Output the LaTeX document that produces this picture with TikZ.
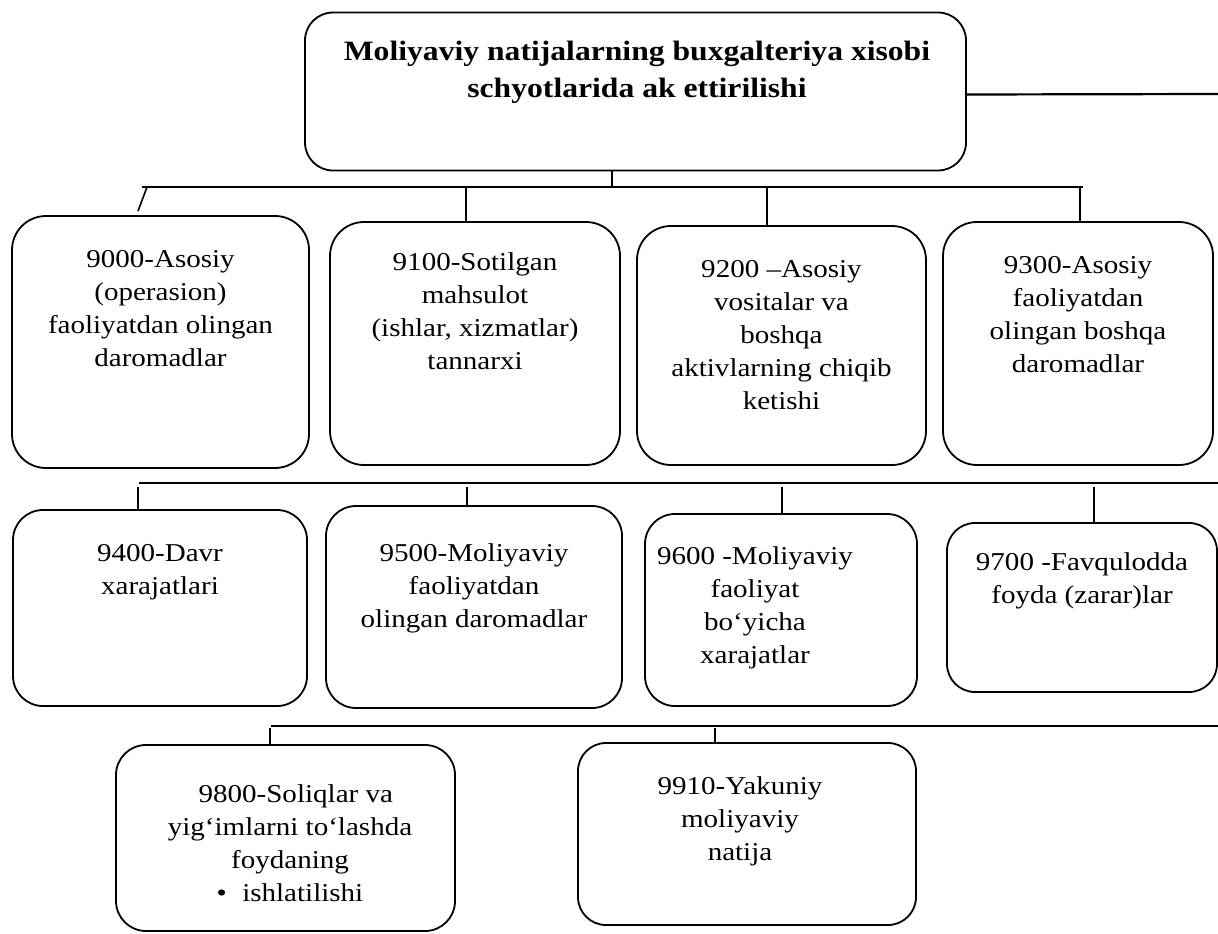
\documentclass[tikz,border=0pt]{standalone}
\usepackage{fontspec}
\setmainfont{Liberation Serif}[FakeStretch=1.13]

\tikzset{
  acct/.style={draw, line width=1.8pt, rounded corners=30pt, inner sep=0pt},
  lbl/.style={align=center, inner sep=0pt, anchor=north, font=\fontsize{25.7}{33}\selectfont},
  bus/.style={line width=2.2pt},
  riser/.style={line width=1.6pt},
}

\begin{document}
\begin{tikzpicture}[x=1pt, y=-1pt]
  \fill[white] (0,0) rectangle (1218,934);
  \useasboundingbox (0,0) rectangle (1218,934);

  % head box
  \node[acct, rounded corners=28pt, minimum width=661pt, minimum height=158pt] (head) at (635.5,91.5) {};
  \node[lbl, font=\bfseries\fontsize{28}{37}\selectfont] (headtxt) at ([xshift=1.5pt,yshift=-29pt]head.north)
    {Moliyaviy natijalarning buxgalteriya xisobi\\schyotlarida ak ettirilishi};

  % bus lines
  \coordinate (tail) at (1218,94);
  \coordinate (bus1w) at (142,187);
  \coordinate (bus1e) at (1083,187);
  \coordinate (bus2w) at (139,483);
  \coordinate (bus2e) at (1218,483);
  \coordinate (bus3w) at (271,726);
  \coordinate (bus3e) at (1218,726);

  % first row
  \node[acct, rounded corners=34pt, minimum width=297pt, minimum height=252pt] (b9000) at (160.5,342) {};
  \node[acct, rounded corners=34pt, minimum width=290pt, minimum height=243pt] (b9100) at (475,343.5) {};
  \node[acct, rounded corners=34pt, minimum width=289pt, minimum height=239pt] (b9200) at (781.5,345.5) {};
  \node[acct, rounded corners=34pt, minimum width=270pt, minimum height=243pt] (b9300) at (1078,343.5) {};

  \node[lbl] (t9000) at ([yshift=-35pt]b9000.north) {9000-Asosiy\\(operasion)\\faoliyatdan olingan\\daromadlar};
  \node[lbl] (t9100) at ([yshift=-31pt]b9100.north) {9100-Sotilgan\\mahsulot\\(ishlar, xizmatlar)\\tannarxi};
  \node[lbl] (t9200) at ([yshift=-35pt]b9200.north) {9200 –Asosiy\\vositalar va\\boshqa\\aktivlarning chiqib\\ketishi};
  \node[lbl] (t9300) at ([yshift=-35pt]b9300.north) {9300-Asosiy\\faoliyatdan\\olingan boshqa\\daromadlar};

  % second row
  \node[acct, minimum width=294pt, minimum height=196pt] (b9400) at (160,608) {};
  \node[acct, minimum width=296pt, minimum height=202pt] (b9500) at (474,607) {};
  \node[acct, minimum width=272pt, minimum height=192pt] (b9600) at (781,610) {};
  \node[acct, rounded corners=28pt, minimum width=270pt, minimum height=169pt] (b9700) at (1082,607.5) {};

  \node[lbl] (t9400) at ([yshift=-35pt]b9400.north) {9400-Davr\\xarajatlari};
  \node[lbl] (t9500) at ([yshift=-38pt]b9500.north) {9500-Moliyaviy\\faoliyatdan\\olingan daromadlar};
  \node[lbl] (t9600) at ([xshift=-26pt,yshift=-33pt]b9600.north) {9600 -Moliyaviy\\faoliyat\\bo‘yicha\\xarajatlar};
  \node[lbl] (t9700) at ([yshift=-30pt]b9700.north) {9700 -Favqulodda\\foyda (zarar)lar};

  % third row
  \node[acct, minimum width=339pt, minimum height=186pt] (b9800) at (285.5,838) {};
  \node[acct, rounded corners=28pt, minimum width=338pt, minimum height=182pt] (b9910) at (747,834) {};

  \node[lbl] (t9800) at ([xshift=4.5pt,yshift=-40pt]b9800.north)
    {\hspace*{0.45em}9800-Soliqlar va\\yig‘imlarni to‘lashda\\foydaning\\•\hspace{0.6em}ishlatilishi};
  \node[lbl] (t9910) at ([xshift=-7pt,yshift=-34pt]b9910.north) {9910-Yakuniy\\moliyaviy\\natija};

  % connectors
  \draw[bus] ([yshift=-3pt]head.east) -- (tail);
  \draw[bus] (bus1w) -- (bus1e);
  \draw[bus] (bus2w) -- (bus2e);
  \draw[bus] (bus3w) -- (bus3e);

  \draw[riser] ([xshift=-23.5pt]head.south) -- ([xshift=-23.5pt]head.south |- bus1w);
  \draw[riser] ([xshift=-22.5pt,yshift=4pt]b9000.north) -- ([xshift=-13.5pt]b9000.north |- bus1w);
  \foreach \b/\dx in {9100/-9, 9200/-14.5, 9300/2}
    \draw[riser] ([xshift=\dx pt]b\b.north) -- ([xshift=\dx pt]b\b.north |- bus1w);
  \foreach \b/\dx in {9400/-22, 9500/-7, 9600/1, 9700/12}
    \draw[riser, shorten >=4pt] ([xshift=\dx pt]b\b.north) -- ([xshift=\dx pt]b\b.north |- bus2w);
  \foreach \b/\dx in {9800/-15.5, 9910/-32}
    \draw[riser, shorten >=2pt] ([xshift=\dx pt]b\b.north) -- ([xshift=\dx pt]b\b.north |- bus3w);
\end{tikzpicture}
\end{document}
